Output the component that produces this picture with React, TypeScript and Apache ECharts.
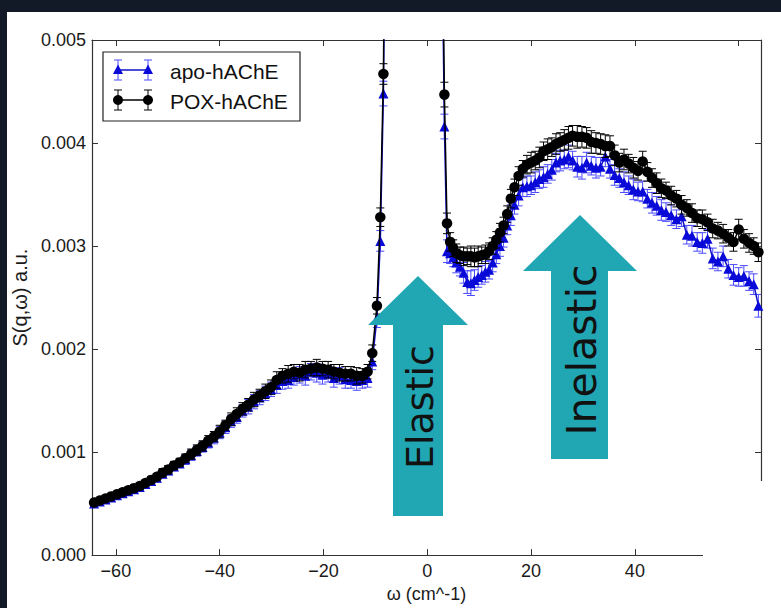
import React, { useEffect, useRef } from "react";
import * as echarts from "echarts";

// Energy transfer grid (cm^-1)
const omega: number[] = [
  -64.2, -63.1, -62.0, -60.9, -59.8, -58.7, -57.6, -56.5, -55.4, -54.3,
  -53.2, -52.1, -51.0, -49.9, -48.8, -47.7, -46.6, -45.5, -44.4, -43.3,
  -42.2, -41.1, -40.0, -38.9, -37.8, -36.7, -35.6, -34.5, -33.4, -32.3,
  -31.2, -30.1, -29.0, -27.9, -26.8, -25.7, -24.6, -23.5, -22.4, -21.3,
  -20.2, -19.1, -18.0, -16.9, -15.8, -14.7, -13.6, -12.5, -11.5, -10.6,
  -9.7, -9.05, -8.45,
  -7.8, -7.0, -5.5, -3.5, -2.5, -1.5, 0.5, 2.0, 2.7,
  3.3, 3.8, 4.4, 5.0, 5.6, 6.3, 7.0, 7.7, 8.4, 9.1,
  9.8, 10.5, 11.2, 11.9, 12.6, 13.3, 14.0, 14.7, 15.4, 16.1,
  16.8, 17.6, 18.4, 19.2, 20.0, 20.8, 21.6, 22.4, 23.2, 24.0,
  24.8, 25.6, 26.4, 27.2, 28.0, 28.9, 29.8, 30.7, 31.6, 32.5,
  33.4, 34.3, 35.2, 36.1, 37.0, 37.9, 38.8, 39.7, 40.6, 41.5,
  42.4, 43.3, 44.2, 45.1, 46.0, 47.0, 48.0, 49.0, 50.0, 51.0,
  52.0, 53.0, 54.0, 55.0, 56.0, 57.0, 58.0, 59.0, 60.0, 61.0,
  62.0, 62.9, 63.8,
];

const poxValues: number[] = [
  0.00051, 0.00053, 0.00055, 0.00057, 0.00059, 0.00061, 0.00063, 0.00065, 0.00067, 0.00070,
  0.00073, 0.00076, 0.00080, 0.00083, 0.00087, 0.00090, 0.00094, 0.00098, 0.00102, 0.00106,
  0.00111, 0.00115, 0.00120, 0.00126, 0.00132, 0.00137, 0.00142, 0.00146, 0.00151, 0.00155,
  0.00159, 0.00163, 0.00170, 0.00174, 0.00176, 0.00178, 0.00177, 0.00180, 0.00181, 0.00182,
  0.00181, 0.00180, 0.00178, 0.00177, 0.00176, 0.00176, 0.00174, 0.00174, 0.00178, 0.00196,
  0.00242, 0.00328, 0.00467,
  0.0085, 0.016, 0.03, 0.045, 0.05, 0.045, 0.03, 0.014, 0.007,
  0.00447, 0.00322, 0.00304, 0.00298, 0.00293, 0.00291, 0.00290, 0.00290, 0.00290, 0.00289,
  0.00290, 0.00291, 0.00292, 0.00295, 0.00300, 0.00306, 0.00313, 0.00320, 0.00331, 0.00346,
  0.00357, 0.00368, 0.00375, 0.00379, 0.00381, 0.00383, 0.00386, 0.00392, 0.00394, 0.00396,
  0.00399, 0.00401, 0.00403, 0.00405, 0.00407, 0.00406, 0.00406, 0.00405, 0.00401, 0.00400,
  0.00399, 0.00397, 0.00397, 0.00388, 0.00381, 0.00384, 0.00380, 0.00376, 0.00373, 0.00382,
  0.00372, 0.00366, 0.00361, 0.00356, 0.00354, 0.00349, 0.00346, 0.00340, 0.00337, 0.00332,
  0.00327, 0.00326, 0.00323, 0.00317, 0.00315, 0.00312, 0.00308, 0.00304, 0.00316, 0.00307,
  0.00303, 0.00300, 0.00294,
];

const apoValues: number[] = [
  0.00050, 0.00052, 0.00054, 0.00056, 0.00058, 0.00060, 0.00062, 0.00064, 0.00066, 0.00069,
  0.00072, 0.00075, 0.00079, 0.00082, 0.00086, 0.00089, 0.00093, 0.00097, 0.00101, 0.00105,
  0.00109, 0.00114, 0.00119, 0.00124, 0.00130, 0.00134, 0.00140, 0.00144, 0.00149, 0.00153,
  0.00157, 0.00161, 0.00165, 0.00169, 0.00170, 0.00173, 0.00175, 0.00174, 0.00178, 0.00177,
  0.00175, 0.00176, 0.00172, 0.00174, 0.00171, 0.00170, 0.00169, 0.00170, 0.00172, 0.00188,
  0.00230, 0.00305, 0.00448,
  0.008, 0.015, 0.028, 0.042, 0.047, 0.042, 0.028, 0.013, 0.0065,
  0.00416, 0.00295, 0.00293, 0.00289, 0.00284, 0.00280, 0.00274, 0.00265, 0.00264, 0.00267,
  0.00270, 0.00272, 0.00275, 0.00277, 0.00284, 0.00292, 0.00300, 0.00308, 0.00320, 0.00330,
  0.00340, 0.00349, 0.00357, 0.00358, 0.00359, 0.00362, 0.00365, 0.00367, 0.00370, 0.00374,
  0.00381, 0.00383, 0.00384, 0.00387, 0.00383, 0.00377, 0.00376, 0.00381, 0.00378, 0.00376,
  0.00377, 0.00387, 0.00375, 0.00369, 0.00366, 0.00362, 0.00359, 0.00355, 0.00353, 0.00353,
  0.00346, 0.00342, 0.00339, 0.00335, 0.00333, 0.00330, 0.00326, 0.00329, 0.00311, 0.00310,
  0.00304, 0.00303, 0.00307, 0.00288, 0.00285, 0.00290, 0.00278, 0.00272, 0.00270, 0.00271,
  0.00266, 0.00263, 0.00242,
];

const poxErr: number[] = [
  0.00002, 0.00002, 0.00002, 0.00002, 0.00002, 0.00003, 0.00003, 0.00003, 0.00003, 0.00003,
  0.00003, 0.00003, 0.00004, 0.00004, 0.00004, 0.00004, 0.00004, 0.00005, 0.00005, 0.00005,
  0.00005, 0.00005, 0.00006, 0.00005, 0.00006, 0.00006, 0.00006, 0.00006, 0.00007, 0.00006,
  0.00007, 0.00007, 0.00008, 0.00007, 0.00008, 0.00007, 0.00008, 0.00008, 0.00007, 0.00008,
  0.00007, 0.00008, 0.00007, 0.00008, 0.00007, 0.00007, 0.00008, 0.00007, 0.00007, 0.00008,
  0.00008, 0.00009, 0.00010,
  0.0002, 0.0002, 0.0002, 0.0002, 0.0002, 0.0002, 0.0002, 0.0002, 0.0002,
  0.00012, 0.00010, 0.00009, 0.00008, 0.00009, 0.00008, 0.00009, 0.00008, 0.00010, 0.00009,
  0.00010, 0.00008, 0.00009, 0.00008, 0.00008, 0.00008, 0.00009, 0.00008, 0.00008, 0.00009,
  0.00008, 0.00009, 0.00008, 0.00009, 0.00010, 0.00009, 0.00010, 0.00009, 0.00010, 0.00009,
  0.00010, 0.00009, 0.00010, 0.00011, 0.00010, 0.00011, 0.00010, 0.00010, 0.00011, 0.00010,
  0.00010, 0.00011, 0.00010, 0.00010, 0.00009, 0.00010, 0.00009, 0.00010, 0.00009, 0.00010,
  0.00009, 0.00009, 0.00010, 0.00009, 0.00008, 0.00009, 0.00008, 0.00009, 0.00008, 0.00009,
  0.00008, 0.00009, 0.00008, 0.00009, 0.00008, 0.00009, 0.00008, 0.00009, 0.00010, 0.00009,
  0.00009, 0.00008, 0.00009,
];

const apoErr: number[] = [
  0.00002, 0.00002, 0.00002, 0.00002, 0.00003, 0.00003, 0.00003, 0.00003, 0.00003, 0.00003,
  0.00003, 0.00004, 0.00004, 0.00004, 0.00004, 0.00004, 0.00005, 0.00005, 0.00005, 0.00005,
  0.00005, 0.00006, 0.00006, 0.00006, 0.00006, 0.00006, 0.00006, 0.00007, 0.00007, 0.00007,
  0.00007, 0.00007, 0.00008, 0.00008, 0.00008, 0.00008, 0.00008, 0.00009, 0.00008, 0.00009,
  0.00009, 0.00008, 0.00009, 0.00008, 0.00009, 0.00008, 0.00009, 0.00008, 0.00009, 0.00008,
  0.00009, 0.00010, 0.00012,
  0.0002, 0.0002, 0.0002, 0.0002, 0.0002, 0.0002, 0.0002, 0.0002, 0.0002,
  0.00012, 0.00011, 0.00010, 0.00009, 0.00010, 0.00009, 0.00010, 0.00011, 0.00012, 0.00010,
  0.00010, 0.00009, 0.00010, 0.00009, 0.00009, 0.00009, 0.00010, 0.00009, 0.00009, 0.00010,
  0.00009, 0.00010, 0.00009, 0.00010, 0.00009, 0.00010, 0.00009, 0.00010, 0.00009, 0.00010,
  0.00009, 0.00010, 0.00009, 0.00011, 0.00009, 0.00010, 0.00011, 0.00010, 0.00009, 0.00010,
  0.00009, 0.00010, 0.00009, 0.00010, 0.00009, 0.00010, 0.00009, 0.00010, 0.00009, 0.00010,
  0.00009, 0.00010, 0.00009, 0.00010, 0.00009, 0.00010, 0.00009, 0.00010, 0.00009, 0.00010,
  0.00009, 0.00010, 0.00009, 0.00010, 0.00009, 0.00010, 0.00009, 0.00010, 0.00009, 0.00010,
  0.00009, 0.00010, 0.00011,
];

const seriesNames = ["apo-hAChE", "POX-hAChE"];
const xTickValues = [-60, -40, -20, 0, 20, 40, 60];
const xAxisName = "ω (cm^-1)";
const yAxisName = "S(q,ω) a.u.";
const arrowLabels = ["Elastic", "Inelastic"];

const BLUE_LINE = "#1010c8";
const BLUE_MARK = "#0a0ad8";
const BLUE_ERR = "#4a4aff";
const BLACK = "#000000";
const TEAL = "#21a7b4";
const FONT = "'Liberation Sans', Arial, sans-serif";

function rows(xs: number[], ys: number[], es: number[]) {
  const n = Math.min(xs.length, ys.length, es.length);
  const out: number[][] = [];
  for (let i = 0; i < n; i++) out.push([xs[i], ys[i], es[i]]);
  return out;
}

function errorBarSeries(data: number[][], color: string, z: number) {
  return {
    type: "custom",
    xAxisIndex: 0,
    yAxisIndex: 0,
    clip: true,
    silent: true,
    z,
    data,
    encode: { x: 0, y: 1 },
    renderItem: (params: any, api: any) => {
      const x = api.value(0);
      const y = api.value(1);
      const e = api.value(2);
      const top = api.coord([x, y + e]);
      const bot = api.coord([x, y - e]);
      const cw = 4;
      const st = { stroke: color, lineWidth: 1 };
      return {
        type: "group",
        children: [
          { type: "line", shape: { x1: top[0], y1: top[1], x2: bot[0], y2: bot[1] }, style: st },
          { type: "line", shape: { x1: top[0] - cw, y1: top[1], x2: top[0] + cw, y2: top[1] }, style: st },
          { type: "line", shape: { x1: bot[0] - cw, y1: bot[1], x2: bot[0] + cw, y2: bot[1] }, style: st },
        ],
      };
    },
  };
}

function legendEntry(y: number, color: string, errColor: string, marker: "tri" | "circ", label: string) {
  const xs = [118, 148];
  const children: any[] = [
    { type: "line", shape: { x1: xs[0], y1: y, x2: xs[1], y2: y }, style: { stroke: color, lineWidth: 1.5 } },
  ];
  xs.forEach((x) => {
    children.push({ type: "line", shape: { x1: x, y1: y - 10, x2: x, y2: y + 10 }, style: { stroke: errColor, lineWidth: 1 } });
    children.push({ type: "line", shape: { x1: x - 4, y1: y - 10, x2: x + 4, y2: y - 10 }, style: { stroke: errColor, lineWidth: 1 } });
    children.push({ type: "line", shape: { x1: x - 4, y1: y + 10, x2: x + 4, y2: y + 10 }, style: { stroke: errColor, lineWidth: 1 } });
    if (marker === "tri") {
      children.push({ type: "polygon", shape: { points: [[x, y - 5.5], [x - 5, y + 4], [x + 5, y + 4]] }, style: { fill: BLUE_MARK } });
    } else {
      children.push({ type: "circle", shape: { cx: x, cy: y, r: 5 }, style: { fill: BLACK } });
    }
  });
  children.push({
    type: "text",
    x: 170,
    y: y + 1,
    style: { text: label, fill: "#111", font: `21px ${FONT}`, align: "left", verticalAlign: "middle" },
  });
  return children;
}

export default function App() {
  const ref = useRef<HTMLDivElement>(null);

  useEffect(() => {
    if (!ref.current) return;
    const chart = echarts.init(ref.current, undefined, { renderer: "svg" });

    const fmtX = (v: number) => {
      if (Math.abs(v - Math.round(v / 20) * 20) > 1e-6) return "";
      const r = Math.round(v);
      return r < 0 ? "\u2212" + Math.abs(r) : String(r);
    };

    const baseX = {
      type: "value",
      min: -64.6,
      max: 64.3,
      splitNumber: 6,
      splitLine: { show: false },
      axisLine: { show: true, onZero: false, lineStyle: { color: "#333", width: 1.2 } },
    };
    const baseY = {
      type: "value",
      min: 0,
      max: 0.005,
      interval: 0.001,
      splitLine: { show: false },
      axisLine: { show: true, onZero: false, lineStyle: { color: "#333", width: 1.2 } },
    };

    const option: any = {
      animation: false,
      backgroundColor: "transparent",
      grid: { left: 92, right: 20, top: 40, bottom: 51, containLabel: false },
      xAxis: [
        {
          ...baseX,
          position: "bottom",
          name: xAxisName,
          nameLocation: "middle",
          nameGap: 26,
          nameTextStyle: { fontFamily: FONT, fontSize: 18, color: "#1a1a1a" },
          axisTick: { show: true, inside: true, length: 6, customValues: xTickValues, lineStyle: { color: "#333" } },
          axisLabel: {
            show: true,
            margin: 7,
            customValues: xTickValues,
            formatter: fmtX,
            fontFamily: FONT,
            fontSize: 18,
            color: "#1a1a1a",
          },
        },
        {
          ...baseX,
          position: "top",
          axisTick: { show: true, inside: true, length: 6, customValues: xTickValues, lineStyle: { color: "#333" } },
          axisLabel: { show: false },
        },
      ],
      yAxis: [
        {
          ...baseY,
          position: "left",
          name: yAxisName,
          nameLocation: "middle",
          nameGap: 53,
          nameTextStyle: { fontFamily: FONT, fontSize: 20, color: "#1a1a1a" },
          axisTick: { show: true, inside: true, length: 6, lineStyle: { color: "#333" } },
          axisLabel: {
            margin: 6,
            formatter: (v: number) => v.toFixed(3),
            fontFamily: FONT,
            fontSize: 18,
            color: "#1a1a1a",
          },
        },
        {
          ...baseY,
          position: "right",
          axisTick: { show: true, inside: true, length: 6, lineStyle: { color: "#333" } },
          axisLabel: { show: false },
        },
      ],
      series: [
        errorBarSeries(rows(omega, apoValues, apoErr), BLUE_ERR, 2),
        {
          name: seriesNames[0],
          type: "line",
          xAxisIndex: 0,
          yAxisIndex: 0,
          data: rows(omega, apoValues, apoErr).map((r) => [r[0], r[1]]),
          symbol: "triangle",
          symbolSize: 10,
          showAllSymbol: true,
          clip: true,
          z: 3,
          lineStyle: { color: BLUE_LINE, width: 1.5 },
          itemStyle: { color: BLUE_MARK, borderWidth: 0 },
        },
        errorBarSeries(rows(omega, poxValues, poxErr), BLACK, 4),
        {
          name: seriesNames[1],
          type: "line",
          xAxisIndex: 0,
          yAxisIndex: 0,
          data: rows(omega, poxValues, poxErr).map((r) => [r[0], r[1]]),
          symbol: "circle",
          symbolSize: 10.5,
          showAllSymbol: true,
          clip: true,
          z: 5,
          lineStyle: { color: BLACK, width: 1.5 },
          itemStyle: { color: BLACK, borderWidth: 0 },
        },
      ],
      graphic: [
        // white patch hiding the lower right corner of the frame
        { type: "rect", z: 100, silent: true, shape: { x: 703, y: 481, width: 78, height: 127 }, style: { fill: "#ffffff" } },
        // legend
        {
          type: "group",
          z: 110,
          children: [
            { type: "rect", shape: { x: 103, y: 52, width: 197, height: 69 }, style: { fill: "#ffffff", stroke: "#222", lineWidth: 1.2 } },
            ...legendEntry(70, BLUE_LINE, BLUE_ERR, "tri", seriesNames[0]),
            ...legendEntry(100, BLACK, BLACK, "circ", seriesNames[1]),
          ],
        },
        // Elastic arrow
        {
          type: "polygon",
          z: 120,
          shape: { points: [[418, 276], [468, 325], [443, 325], [443, 516], [393, 516], [393, 325], [368, 325]] },
          style: { fill: TEAL },
        },
        {
          type: "text",
          z: 121,
          x: 420,
          y: 407,
          rotation: Math.PI / 2,
          style: { text: arrowLabels[0], fill: "#111", font: "38px 'DejaVu Sans', sans-serif", align: "center", verticalAlign: "middle" },
        },
        // Inelastic arrow
        {
          type: "polygon",
          z: 120,
          shape: { points: [[580, 215], [637, 271], [608, 271], [608, 459], [551, 459], [551, 271], [523, 271]] },
          style: { fill: TEAL },
        },
        {
          type: "text",
          z: 121,
          x: 582,
          y: 350,
          rotation: Math.PI / 2,
          style: { text: arrowLabels[1], fill: "#111", font: "41px 'DejaVu Sans', sans-serif", align: "center", verticalAlign: "middle" },
        },
      ],
    };

    chart.setOption(option);
    return () => chart.dispose();
  }, []);

  return (
    <div style={{ position: "fixed", left: 0, top: 0, width: 781, height: 608, background: "#121a28", overflow: "hidden" }}>
      <div style={{ position: "absolute", left: 7, top: 12, width: 774, height: 596, background: "#ffffff" }} />
      <div ref={ref} style={{ position: "absolute", left: 0, top: 0, width: 781, height: 608 }} />
    </div>
  );
}
